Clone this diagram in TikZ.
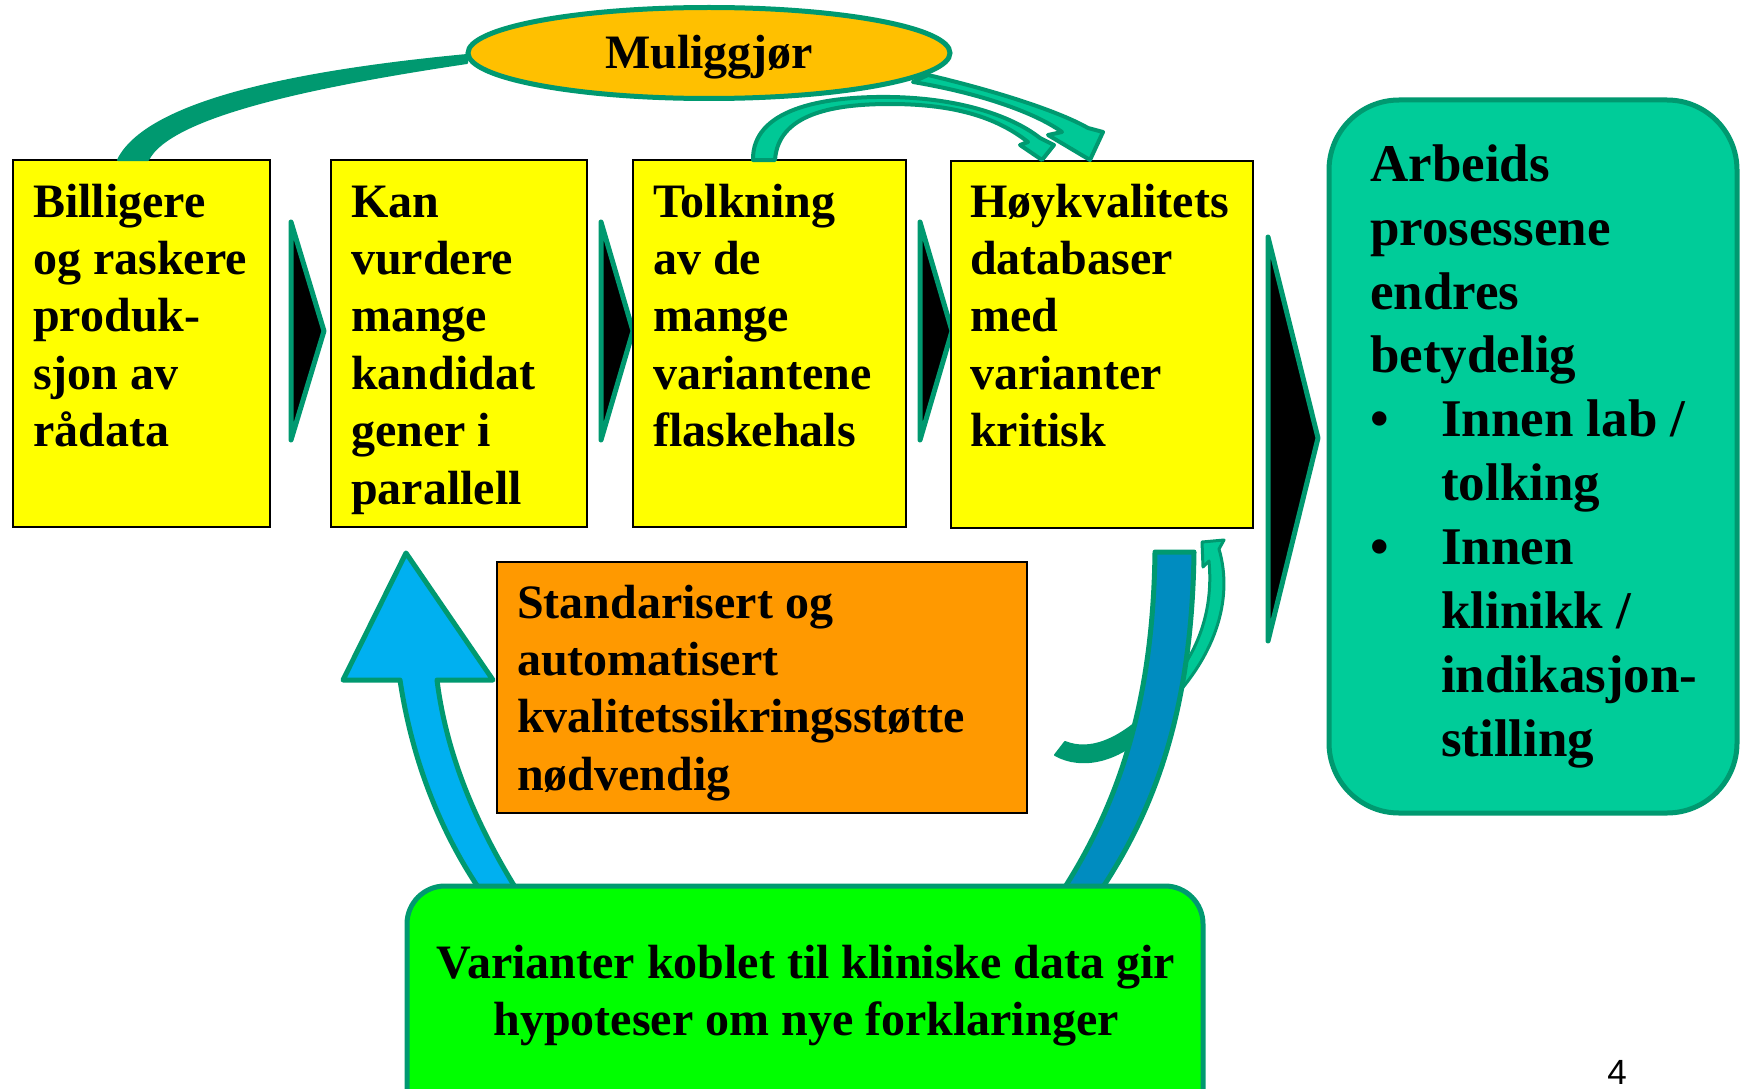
\documentclass[tikz,border=0pt]{standalone}
\usepackage{fontspec}
\setmainfont{Liberation Serif}
\newfontfamily\pagefont{Liberation Sans}
\usetikzlibrary{shapes.geometric}
\definecolor{tealA}{HTML}{009970}
\definecolor{tealB}{HTML}{00C896}
\definecolor{gboxc}{HTML}{00CC99}
\definecolor{yelc}{HTML}{FFFF00}
\definecolor{orac}{HTML}{FF9900}
\definecolor{goldc}{HTML}{FFC000}
\definecolor{limec}{HTML}{00FF00}
\definecolor{lbluec}{HTML}{00B0F0}
\definecolor{dbluec}{HTML}{008CC0}
\begin{document}
\begin{tikzpicture}[x=1pt,y=-1pt,
  ybox/.style={draw=black, line width=2pt, fill=yelc, inner sep=0pt, rectangle},
  txt/.style={font=\bfseries\fontsize{48}{57.4}\selectfont, align=left, inner sep=0pt, anchor=north west, text=black},
  gtxt/.style={font=\bfseries\fontsize{53}{63.9}\selectfont, align=left, inner sep=0pt, anchor=north west, text=black},
  chev/.style={fill=black, draw=tealA, line width=5pt, line join=round},
  band/.style={fill=tealA, draw=tealA, line width=2pt, line join=round},
  arr/.style={fill=tealB, draw=tealA, line width=4pt, line join=round},
  barr/.style={draw=tealA, line width=5pt, line join=round}]

\clip (0,0) rectangle (1742,1089);
\fill[white] (0,0) rectangle (1742,1089);

% chevrons
\draw[chev] (291,222) -- (324,331) -- (291,440) -- cycle;
\draw[chev] (601,222) -- (633,331) -- (601,440) -- cycle;
\draw[chev] (920,222) -- (952,331) -- (920,440) -- cycle;
\draw[chev] (1268,237) -- (1318,438) -- (1268,641) -- cycle;

% yellow boxes
\node[ybox, minimum width=257pt, minimum height=367pt] (b1) at (141.5,343.5) {};
\node[ybox, minimum width=256pt, minimum height=367pt] (b2) at (459,343.5) {};
\node[ybox, minimum width=273pt, minimum height=367pt] (b3) at (769.5,343.5) {};
\node[ybox, minimum width=302pt, minimum height=367pt] (b4) at (1102,344.5) {};

% orange box
\node[draw=black, line width=2pt, fill=orac, rectangle, inner sep=0pt, minimum width=530pt, minimum height=251pt] (ob) at (762,687.5) {};

% right green box
\node[draw=tealA, line width=5pt, fill=gboxc, rectangle, rounded corners=70pt, inner sep=0pt, minimum width=408pt, minimum height=713pt] (work) at (1533,456.5) {};

% top left band from ellipse to box 1
\draw[band] (467,55) .. controls (330,68) and (150,95) .. (118,160)
  -- (148,160) .. controls (170,115) and (320,85) .. (467,63) -- cycle;

% arrow from ellipse to box 4
\draw[arr] (928,75) .. controls (1000,92) and (1060,112) .. (1088,128)
  -- (1103,132) -- (1090,160) -- (1048,135) -- (1062,132)
  .. controls (1040,116) and (990,95) .. (913,82) -- cycle;

% arrow from box 3 over to box 4
\draw[arr] (753,160) .. controls (752,110) and (820,96) .. (890,97)
  .. controls (960,98) and (1012,116) .. (1040,138)
  -- (1054,145) -- (1042,160) -- (1020,145) -- (1028,142)
  .. controls (1000,120) and (960,104) .. (890,104)
  .. controls (830,104) and (778,115) .. (775,160) -- cycle;

% ellipse
\node[ellipse, fill=goldc, draw=tealA, line width=5pt, minimum width=482pt, minimum height=91pt, inner sep=0pt] (mul) at (709,53) {};
\node[font=\bfseries\fontsize{48}{57.4}\selectfont, inner sep=0pt, anchor=base] (multxt) at (709,69) {Muliggjør};

% box texts
\node[txt] (t1) at (33,176.8) {\strut Billigere\\og raskere\\produk-\\sjon av\\rådata};
\node[txt] (t2) at (351,176.8) {\strut Kan\\vurdere\\mange\\kandidat\\gener i\\parallell};
\node[txt] (t3) at (653,176.8) {\strut Tolkning\\av de\\mange\\variantene\\flaskehals};
\node[txt] (t4) at (970,176.8) {\strut Høykvalitets\\databaser\\med\\varianter\\kritisk};
\node[txt] (t5) at (517,577.8) {\strut Standarisert og\\automatisert\\kvalitetssikringsstøtte\\nødvendig};
\node[gtxt] (t6) at (1370,136.3) {\strut Arbeids\\prosessene\\endres\\betydelig\\\makebox[71pt][l]{•}Innen lab /\\\hspace*{71pt}tolking\\\makebox[71pt][l]{•}Innen\\\hspace*{71pt}klinikk /\\\hspace*{71pt}indikasjon-\\\hspace*{71pt}stilling};

% light blue up arrow
\draw[barr, fill=lbluec] (478,887) .. controls (440,830) and (412,760) .. (400,680)
  -- (343,680) -- (406,553) -- (493,680) -- (437,680)
  .. controls (447,760) and (480,830) .. (515,887) -- cycle;

% small curved arrow (behind dark shaft)
\draw[band] (1065,742) .. controls (1090,752) and (1118,740) .. (1148,712)
  -- (1152,728) .. controls (1120,762) and (1082,770) .. (1055,755) -- cycle;
\draw[arr, line width=3pt] (1160,712) -- (1160,695) .. controls (1195,660) and (1214,615) .. (1209,561)
  -- (1203,567) -- (1202,542) -- (1224,540) -- (1219,549)
  .. controls (1234,600) and (1215,660) .. (1160,712) -- cycle;

% dark blue shaft
\draw[barr, fill=dbluec] (1155,552) -- (1194,552) .. controls (1192,700) and (1160,800) .. (1103,887)
  -- (1065,887) .. controls (1120,800) and (1153,700) .. (1155,552) -- cycle;

% bottom lime box
\node[draw=tealA, line width=5pt, fill=limec, rectangle, rounded corners=38pt, inner sep=0pt, minimum width=796pt, minimum height=300pt] (lime) at (805,1036) {};
\node[txt, anchor=north, align=center] (t7) at (806,937.8) {\strut Varianter koblet til kliniske data gir\\hypoteser om nye forklaringer};

% page number
\node[font=\pagefont\fontsize{35}{40}\selectfont, inner sep=0pt] (pg) at (1617,1072) {4};
\end{tikzpicture}
\end{document}
